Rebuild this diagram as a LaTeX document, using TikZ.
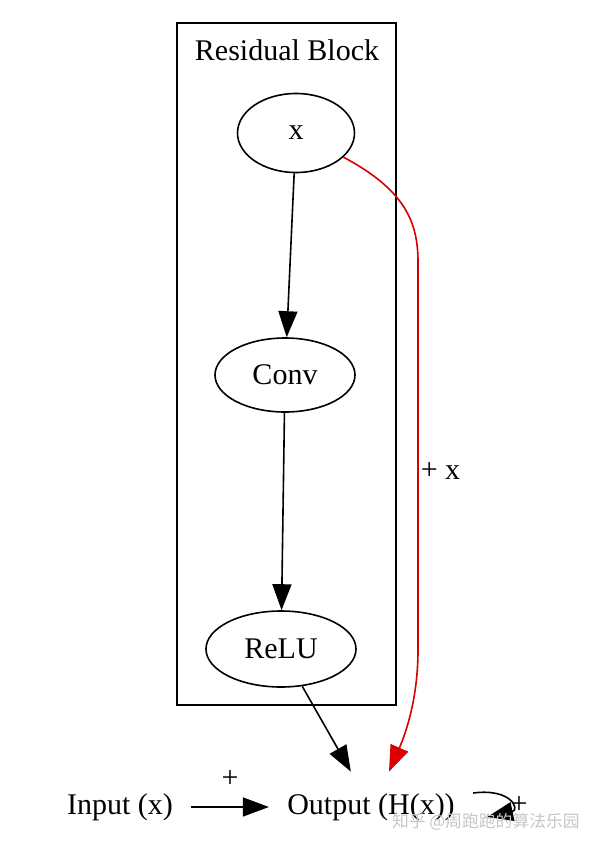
\documentclass[tikz,border=0pt]{standalone}
\usepackage{fontspec}
\setmainfont{Liberation Serif}
\newfontfamily\cjk{Noto Sans CJK SC}
\usetikzlibrary{shapes.geometric,arrows.meta}
\newcommand\gvfont{\fontsize{15}{18}\selectfont}
\begin{document}
\begin{tikzpicture}[x=0.5pt,y=-0.5pt,
oval/.style={ellipse, draw=black, thick, inner sep=0pt, font=\gvfont},
plain/.style={inner xsep=9pt, inner ysep=0pt, minimum height=35pt, font=\gvfont},
edge/.style={thick, -{Triangle[length=13pt,width=9.5pt]}}]
\useasboundingbox (0,0) rectangle (594,847);
\draw[thick] (177,23) rectangle (396,705);
\node[font=\gvfont] (title) at (287,50) {Residual Block};
\node[oval, minimum width=58.5pt, minimum height=39.5pt] (xin) at (296,133) {x};
\node[oval, minimum width=70pt, minimum height=37pt] (conv) at (285,375) {Conv};
\node[oval, minimum width=75pt, minimum height=38pt] (relu) at (281,649) {ReLU};
\node[plain] (inp) at (120,807) {Input (x)};
\node[plain] (outp) at (371,807) {Output (H(x))};
\draw[edge] (xin) -- (conv);
\draw[edge] (conv) -- (relu);
\draw[edge] (relu) -- (outp);
\draw[edge] (inp) -- node[above=6pt, font=\gvfont] {+} (outp);
\draw[edge, red!85!black] (xin.-27) .. controls (405,190) and (418,222) .. (418,262)
-- node[pos=0.54, anchor=west, inner sep=1pt, text=black, font=\gvfont] {+ x} (418,650)
.. controls (418,700) and (405,735) .. ([xshift=9pt]outp.north);
\draw[edge] ([yshift=7pt]outp.east) .. controls (512,788) and (520,810) .. ([xshift=7pt,yshift=-5pt]outp.east)
node[right=16pt, above=-2pt, font=\gvfont] {+};
\node[text=gray!45, font=\cjk\fontsize{8.4}{10}\selectfont, anchor=west] (mark) at (385,822) {知乎 @周跑跑的算法乐园};
\end{tikzpicture}
\end{document}
